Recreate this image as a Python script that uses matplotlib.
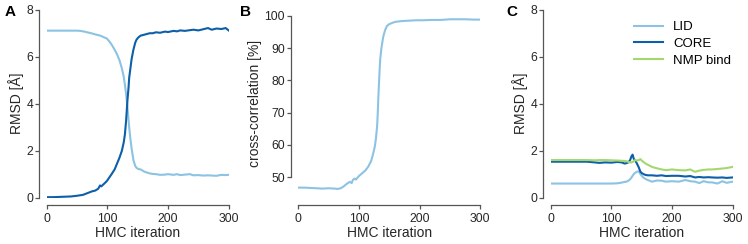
"""RMSD and cross-correlation along HMC iterations (panels A-C)"""

import matplotlib
matplotlib.use('Agg')
import matplotlib.pyplot as plt

plt.rcParams['font.family'] = ['Liberation Sans', 'DejaVu Sans']

# colours
c_lid = '#8cc3e3'
c_core = '#0c5fa8'
c_nmp = '#a4d86e'

# panel A: RMSD of LID / CORE against HMC iteration
a_iter = [0, 10, 20, 30, 40, 50, 55, 60, 65, 70, 75, 80, 85, 88, 90, 95, 99, 103,
          107, 112, 116, 120, 124, 127, 129, 131, 133, 135, 136, 138, 140, 143,
          146, 148, 151, 155, 160, 164, 170, 175, 180, 187, 195, 200, 209, 215,
          220, 228, 236, 242, 250, 258, 266, 272, 280, 288, 295, 300]
a_lid = [7.11, 7.11, 7.11, 7.11, 7.11, 7.11, 7.1, 7.08, 7.05, 7.02, 6.99, 6.95,
         6.92, 6.9, 6.88, 6.82, 6.78, 6.66, 6.52, 6.3, 6.1, 5.85, 5.5, 5.15, 4.8,
         4.4, 3.9, 3.3, 3.0, 2.5, 2.1, 1.6, 1.35, 1.27, 1.22, 1.2, 1.12, 1.08,
         1.03, 1.01, 1.0, 0.97, 0.98, 1.0, 0.97, 1.0, 0.96, 0.98, 1.0, 0.95,
         0.96, 0.94, 0.95, 0.94, 0.93, 0.97, 0.96, 0.97]
a_core = [0.02, 0.02, 0.03, 0.04, 0.05, 0.08, 0.1, 0.12, 0.17, 0.22, 0.27, 0.3,
          0.38, 0.52, 0.48, 0.6, 0.7, 0.85, 1.0, 1.2, 1.45, 1.7, 2.0, 2.35, 2.7,
          3.3, 4.1, 4.7, 5.1, 5.5, 5.9, 6.3, 6.6, 6.72, 6.82, 6.9, 6.93, 6.96,
          7.0, 7.0, 7.04, 7.02, 7.07, 7.05, 7.1, 7.08, 7.12, 7.1, 7.13, 7.15,
          7.12, 7.17, 7.22, 7.15, 7.2, 7.18, 7.22, 7.12]

# panel B: cross-correlation [%]
b_iter = [0, 10, 20, 30, 40, 50, 60, 65, 70, 75, 80, 85, 88, 90, 93, 95, 100,
          105, 110, 115, 120, 123, 126, 128, 130, 131, 132, 133, 134, 135, 137,
          140, 143, 146, 150, 155, 160, 168, 175, 185, 195, 206, 220, 235, 250,
          261, 275, 290, 300]
b_cc = [46.8, 46.8, 46.7, 46.6, 46.5, 46.6, 46.5, 46.4, 46.6, 47.2, 48.0, 48.6,
        48.2, 49.2, 49.6, 49.3, 50.4, 51.2, 52.0, 53.2, 55.0, 57.0, 59.4, 62.0,
        66.0, 70.0, 75.0, 79.0, 83.0, 86.5, 90.0, 93.5, 95.5, 96.8, 97.4, 97.8,
        98.1, 98.3, 98.4, 98.5, 98.6, 98.6, 98.7, 98.7, 98.9, 98.9, 98.9, 98.8,
        98.8]

# panel C: RMSD per domain
c_iter = [0, 20, 40, 60, 73, 80, 90, 100, 110, 117, 122, 125, 128, 131, 133,
          135, 137, 139, 142, 145, 148, 150, 153, 156, 160, 167, 175, 183, 190,
          200, 211, 222, 230, 238, 245, 252, 260, 266, 275, 283, 290, 300]
c_lid_vals = [0.6, 0.6, 0.6, 0.6, 0.6, 0.6, 0.6, 0.6, 0.61, 0.64, 0.67, 0.68,
              0.72, 0.78, 0.85, 0.93, 1.0, 1.05, 1.1, 1.12, 1.0, 0.93, 0.85,
              0.8, 0.75, 0.68, 0.73, 0.72, 0.68, 0.7, 0.68, 0.75, 0.7, 0.68,
              0.62, 0.7, 0.65, 0.65, 0.6, 0.7, 0.63, 0.68]
c_core_vals = [1.53, 1.53, 1.53, 1.53, 1.5, 1.48, 1.5, 1.49, 1.52, 1.5, 1.45,
               1.47, 1.5, 1.6, 1.75, 1.83, 1.65, 1.6, 1.46, 1.3, 1.1, 1.05, 1.0,
               0.97, 0.95, 0.95, 0.93, 0.95, 0.92, 0.93, 0.93, 0.9, 0.92, 0.86,
               0.88, 0.86, 0.87, 0.86, 0.85, 0.86, 0.84, 0.86]
c_nmp_vals = [1.6, 1.6, 1.6, 1.6, 1.59, 1.6, 1.6, 1.59, 1.58, 1.57, 1.56, 1.55,
              1.52, 1.5, 1.5, 1.52, 1.55, 1.6, 1.58, 1.6, 1.64, 1.58, 1.52,
              1.46, 1.4, 1.31, 1.25, 1.2, 1.17, 1.2, 1.17, 1.16, 1.2, 1.1, 1.15,
              1.18, 1.2, 1.2, 1.22, 1.24, 1.26, 1.31]


def style_axis(ax, yticks):
    for side in ['top', 'right']:
        ax.spines[side].set_visible(False)
    for side in ['left', 'bottom']:
        ax.spines[side].set_position(('outward', 5.5))
        ax.spines[side].set_color('#555555')
        ax.spines[side].set_linewidth(0.9)
    ax.set_xlim(0, 300)
    ax.set_xticks([0, 100, 200, 300])
    ax.set_yticks(yticks)
    ax.spines['bottom'].set_bounds(0, 300)
    ax.spines['left'].set_bounds(yticks[0], yticks[-1])
    ax.tick_params(direction='out', length=3, width=0.9, color='#555555',
                   labelsize=8.8, labelcolor='#262626')
    ax.tick_params(axis='y', pad=1)
    ax.tick_params(axis='x', pad=2.5)
    ax.set_xlabel('HMC iteration', fontsize=10, color='#262626', labelpad=1)


fig = plt.figure(figsize=(7.48, 2.44), dpi=100)
bottom, height, width = 0.19, 0.772, 0.2433

# A
ax1 = fig.add_axes([0.0624, bottom, width, height])
ax1.plot(a_iter, a_lid, color=c_lid, lw=1.5)
ax1.plot(a_iter, a_core, color=c_core, lw=1.5)
ax1.set_ylim(0, 8.02)
style_axis(ax1, [0, 2, 4, 6, 8])
ax1.set_ylabel('RMSD [Å]', fontsize=10, color='#262626', labelpad=2)

# B
ax2 = fig.add_axes([0.3988, bottom, width, height])
ax2.plot(b_iter, b_cc, color=c_lid, lw=1.5)
ax2.set_ylim(43.7, 102)
style_axis(ax2, [50, 60, 70, 80, 90, 100])
ax2.set_ylabel('cross-correlation [%]', fontsize=10, color='#262626', labelpad=2)

# C
ax3 = fig.add_axes([0.7362, bottom, width, height])
ax3.plot(c_iter, c_lid_vals, color=c_lid, lw=1.5, label='LID')
ax3.plot(c_iter, c_core_vals, color=c_core, lw=1.5, label='CORE')
ax3.plot(c_iter, c_nmp_vals, color=c_nmp, lw=1.5, label='NMP bind')
ax3.set_ylim(0, 8.02)
style_axis(ax3, [0, 2, 4, 6, 8])
ax3.set_ylabel('RMSD [Å]', fontsize=10, color='#262626', labelpad=2)
ax3.legend(loc='upper right', bbox_to_anchor=(1.035, 0.98), frameon=False,
           fontsize=9.5, handlelength=2.2, labelspacing=0.35, borderaxespad=0.2)

# panel letters
for x, letter in [(0.006, 'A'), (0.321, 'B'), (0.677, 'C')]:
    fig.text(x, 0.949, letter, fontsize=11, fontweight='bold', va='center')

fig.savefig('out.png', dpi=100)
